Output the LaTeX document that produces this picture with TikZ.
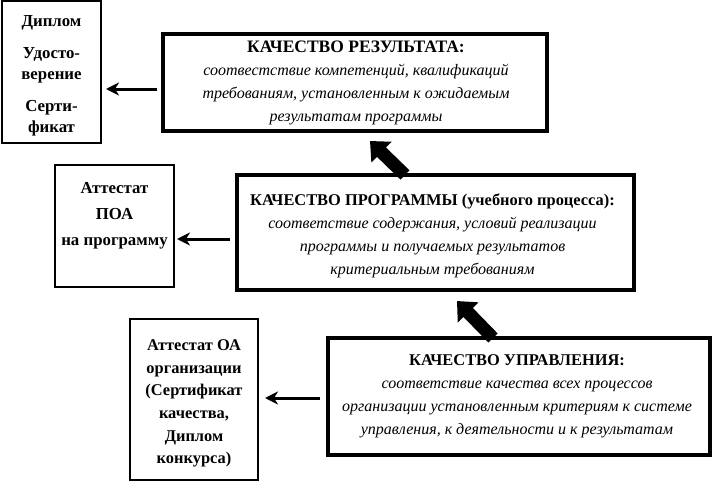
\documentclass[tikz,border=0pt]{standalone}
\usepackage{fontspec}
\setmainfont{Liberation Serif}
\usetikzlibrary{arrows.meta}
\begin{document}
\begin{tikzpicture}[x=1pt,y=-1pt,
  thinbox/.style={draw, line width=1.6pt, inner sep=0pt},
  thickbox/.style={draw, line width=3.3pt, inner sep=0pt},
  bigtxt/.style={align=center, inner sep=0pt, font=\fontsize{16}{23}\selectfont},
  smalltxt/.style={align=center, inner sep=0pt, font=\bfseries\fontsize{16.8}{21}\selectfont},
  thinarrow/.style={line width=3pt, -{Stealth[length=13pt,width=13pt,inset=4pt]}},
  blockarrow/.style={line width=13pt, -{Triangle[length=16pt,width=28pt]}},
]
\useasboundingbox (0,0) rectangle (713,482);
% boxes
\node[thinbox, minimum width=99pt, minimum height=142pt] (b1) at (51.5,72) {};
\node[thickbox, minimum width=384pt, minimum height=97pt] (b2) at (355,82.5) {};
\node[thickbox, minimum width=397pt, minimum height=115pt] (b3) at (435.5,232.5) {};
\node[thinbox, minimum width=119pt, minimum height=122pt] (b4) at (114.5,226) {};
\node[thickbox, minimum width=382pt, minimum height=117pt] (b5) at (519,396.5) {};
\node[thinbox, minimum width=128pt, minimum height=161pt] (b6) at (194,399.5) {};
% texts
\node[smalltxt] (t1) at (51.5,75.5) {Диплом\\[11pt]Удосто-\\верение\\[11pt]Серти-\\фикат};
\node[bigtxt] (t2) at (356,83) {{\bfseries\fontsize{17.5}{23}\selectfont КАЧЕСТВО РЕЗУЛЬТАТА:}\\
  \textit{соотвестствие компетенций, квалификаций}\\
  \textit{требованиям, установленным к ожидаемым}\\
  \textit{результатам программы}};
\node[bigtxt] (t3) at (432.5,236) {{\bfseries\fontsize{16.4}{23}\selectfont КАЧЕСТВО ПРОГРАММЫ (учебного процесса):}\\
  \textit{соответствие содержания, условий реализации}\\
  \textit{программы и получаемых результатов}\\
  \textit{критериальным требованиям}};
\node[smalltxt, font=\bfseries\fontsize{16.8}{26}\selectfont] (t4) at (114.5,215.5) {Аттестат\\ПОА\\на программу};
\node[bigtxt] (t5) at (517,396) {{\bfseries\fontsize{16.4}{23}\selectfont КАЧЕСТВО УПРАВЛЕНИЯ:}\\
  \textit{соответствие качества всех процессов}\\
  \textit{организации установленным критериям к системе}\\
  \textit{управления, к деятельности и к результатам}};
\node[smalltxt, font=\bfseries\fontsize{16.4}{22.6}\selectfont] (t6) at (194,403.5) {Аттестат ОА\\организации\\(Сертификат\\качества,\\Диплом\\конкурса)};
% connector ends
\coordinate (a1s) at (157,89);
\coordinate (a1e) at (106,89);
\coordinate (a2s) at (230,239);
\coordinate (a2e) at (177,239);
\coordinate (a3s) at (320,398);
\coordinate (a3e) at (265,398);
\coordinate (k1s) at (405,175);
\coordinate (k1e) at (370,141);
\coordinate (k2s) at (493,338);
\coordinate (k2e) at (457,301);
\draw[thinarrow] (a1s) -- (a1e);
\draw[thinarrow] (a2s) -- (a2e);
\draw[thinarrow] (a3s) -- (a3e);
\draw[blockarrow] (k1s) -- (k1e);
\draw[blockarrow] (k2s) -- (k2e);
\end{tikzpicture}
\end{document}
